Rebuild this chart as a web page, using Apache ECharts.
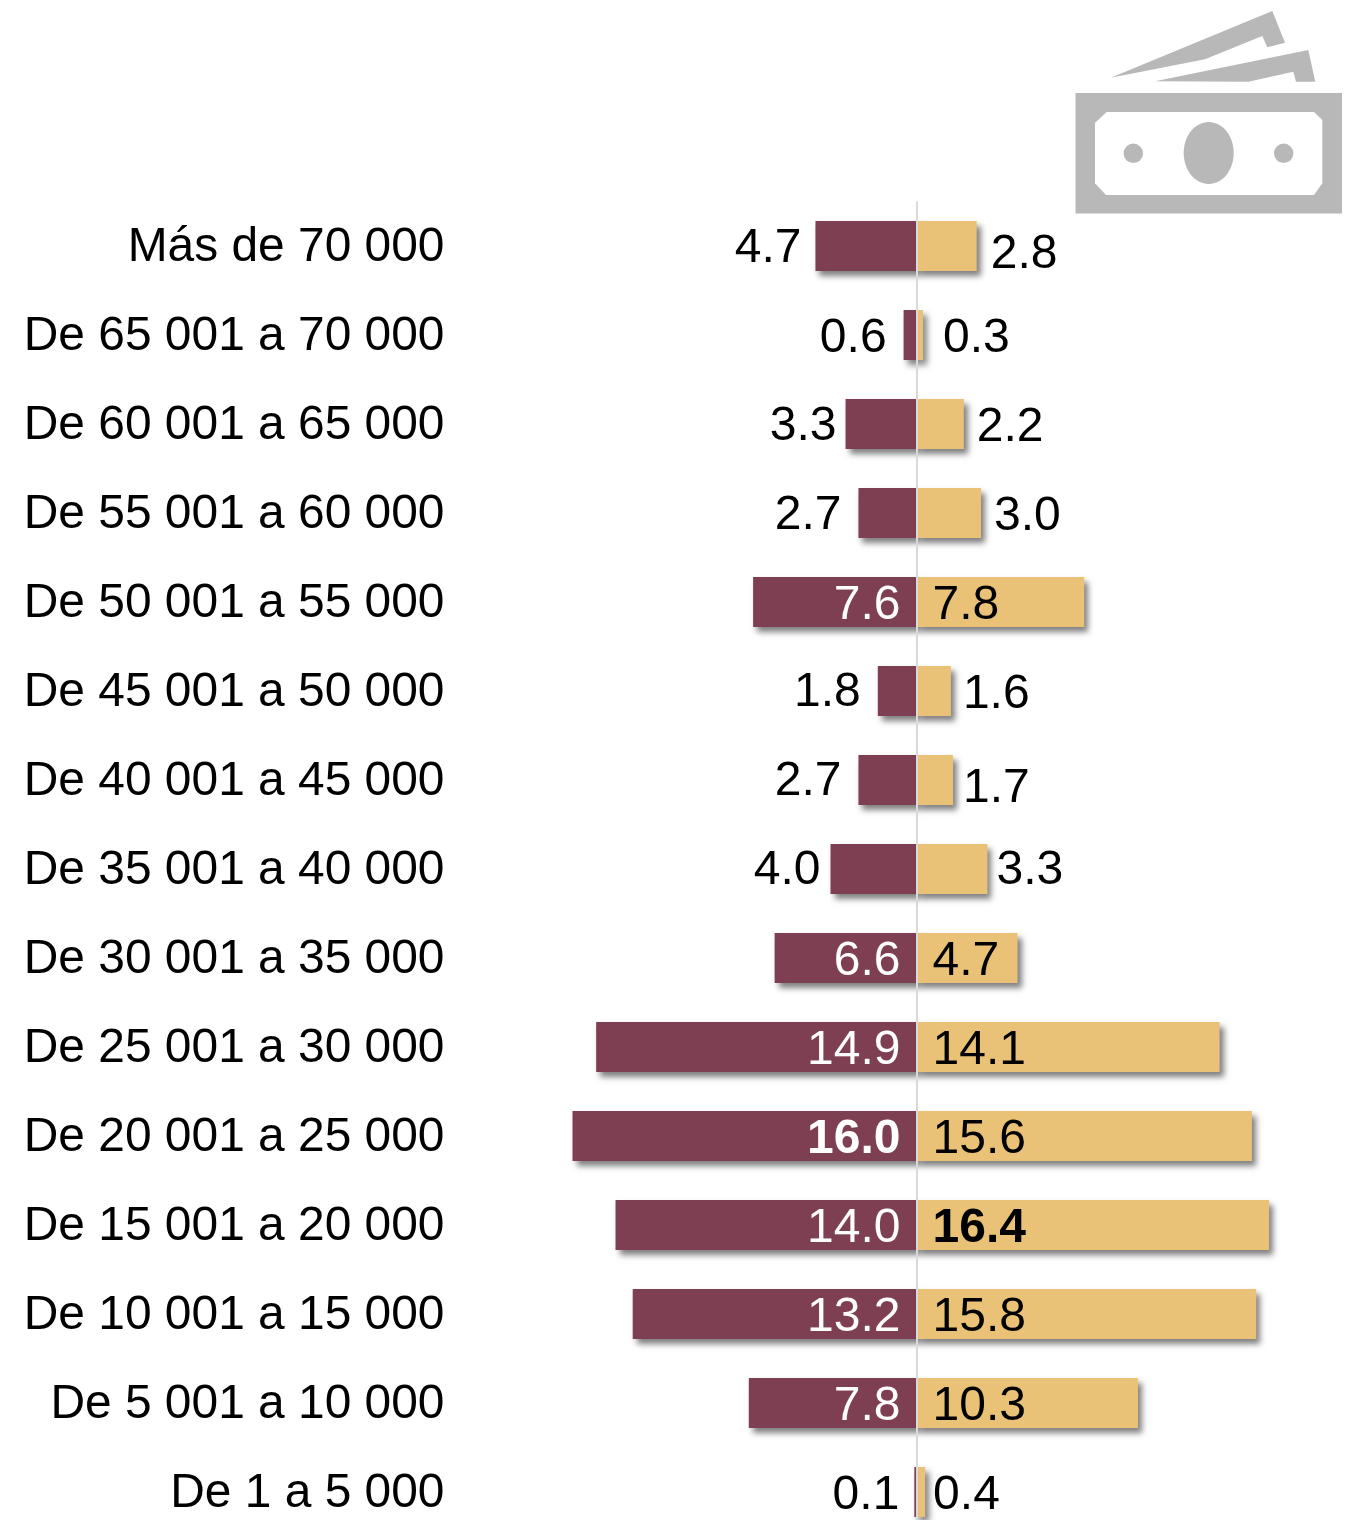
<!DOCTYPE html>
<html>
<head>
<meta charset="utf-8">
<style>html,body{margin:0;padding:0;background:#fff}#c{width:1354px;height:1520px}</style>
<script src="https://cdn.jsdelivr.net/npm/echarts@6/dist/echarts.min.js"></script>
</head>
<body>
<div id="c"></div>
<script>
const categories = ['Más de 70 000','De 65 001 a 70 000','De 60 001 a 65 000','De 55 001 a 60 000','De 50 001 a 55 000','De 45 001 a 50 000','De 40 001 a 45 000','De 35 001 a 40 000','De 30 001 a 35 000','De 25 001 a 30 000','De 20 001 a 25 000','De 15 001 a 20 000','De 10 001 a 15 000','De 5 001 a 10 000','De 1 a 5 000'];
const leftValues = [4.7,0.6,3.3,2.7,7.6,1.8,2.7,4.0,6.6,14.9,16.0,14.0,13.2,7.8,0.1];
const rightValues = [2.8,0.3,2.2,3.0,7.8,1.6,1.7,3.3,4.7,14.1,15.6,16.4,15.8,10.3,0.4];

// label layout, kept apart from the values
const leftGap = [14,17,9,17,0,17,17,10,0,0,0,0,0,0,15];
const rightGap = [14,20,13,13,0,12,10,9,0,0,0,0,0,0,8];
const rightDrop = [7,2,2,2,2,2,7,0,2,2,2,2,2,2,2];
const leftDrop = [1,2,1,1,2,0,0,0,2,2,2,2,2,2,2];
const MAROON = '#7F3F53', GOLD = '#E9C277', FONT = '"Liberation Sans", Arial, sans-serif';
const shadow = {shadowColor:'rgba(0,0,0,0.5)',shadowBlur:6,shadowOffsetX:4,shadowOffsetY:5};
const maxLeft = Math.max(...leftValues), maxRight = Math.max(...rightValues);

function leftItem(v,i){
  const inside = leftGap[i] === 0;
  return {value:-v,label:{show:true,position:inside?'insideRight':'left',distance:inside?16:leftGap[i],offset:[0,leftDrop[i]+2],
    color:inside?'#fff':'#000',fontWeight:v===maxLeft?'bold':'normal',fontSize:48,fontFamily:FONT,formatter:()=>v.toFixed(1)}};
}
function rightItem(v,i){
  const inside = rightGap[i] === 0;
  return {value:v,label:{show:true,position:inside?'insideLeft':'right',distance:inside?16:rightGap[i],offset:[0,rightDrop[i]+2],
    color:'#000',fontWeight:v===maxRight?'bold':'normal',fontSize:48,fontFamily:FONT,formatter:()=>v.toFixed(1)}};
}
const ICON = '#B8B8B8';
const chart = echarts.init(document.getElementById('c'),null,{renderer:'canvas'});
chart.setOption({
  animation:false,
  backgroundColor:'#fff',
  grid:{left:443.5,top:201.5,width:903,height:1335,containLabel:false,outerBoundsMode:'none'},
  xAxis:{type:'value',min:-22,max:20,show:false},
  yAxis:{type:'category',inverse:true,data:categories,
    axisLine:{show:false},axisTick:{show:false},
    axisLabel:{margin:-1,color:'#000',fontSize:47.9,fontFamily:FONT,interval:0,
      formatter:'{a|{value}}',
      rich:{a:{color:'#000',fontSize:47.9,fontFamily:FONT,padding:[4,0,0,0]}}}},
  series:[
    {type:'bar',name:'left',barWidth:50,barGap:'-100%',data:leftValues.map(leftItem),itemStyle:{color:MAROON,...shadow},
     markLine:{silent:true,symbol:'none',label:{show:false},animation:false,z:10,
       lineStyle:{color:'#D9D9D9',width:2,type:'solid'},data:[{xAxis:0}]}},
    {type:'bar',name:'right',barWidth:50,barGap:'-100%',data:rightValues.map(rightItem),itemStyle:{color:GOLD,...shadow}}
  ],
  graphic:[
    {type:'polygon',shape:{points:[[1110.7,77.7],[1272.3,11],[1285,42.7],[1267.3,47.3],[1262.3,36],[1205,59.3]]},style:{fill:ICON}},
    {type:'polygon',shape:{points:[[1155,81.3],[1308.3,50],[1315.3,81.7],[1296,81.7],[1293.3,71.7],[1248.3,81.7]]},style:{fill:ICON}},
    {type:'rect',shape:{x:1075.5,y:93,width:266.5,height:120.5},style:{fill:ICON}},
    {type:'polygon',shape:{points:[[1106.7,112],[1314,112],[1322.3,120],[1322.3,183.3],[1314,195],[1106,195],[1095,183.3],[1095,122.7]]},style:{fill:'#fff'}},
    {type:'ellipse',shape:{cx:1208.7,cy:153,rx:25,ry:31},style:{fill:ICON}},
    {type:'circle',shape:{cx:1133.3,cy:153.3,r:9.7},style:{fill:ICON}},
    {type:'circle',shape:{cx:1283.7,cy:153.3,r:9.7},style:{fill:ICON}}
  ]
});
</script>
</body>
</html>
